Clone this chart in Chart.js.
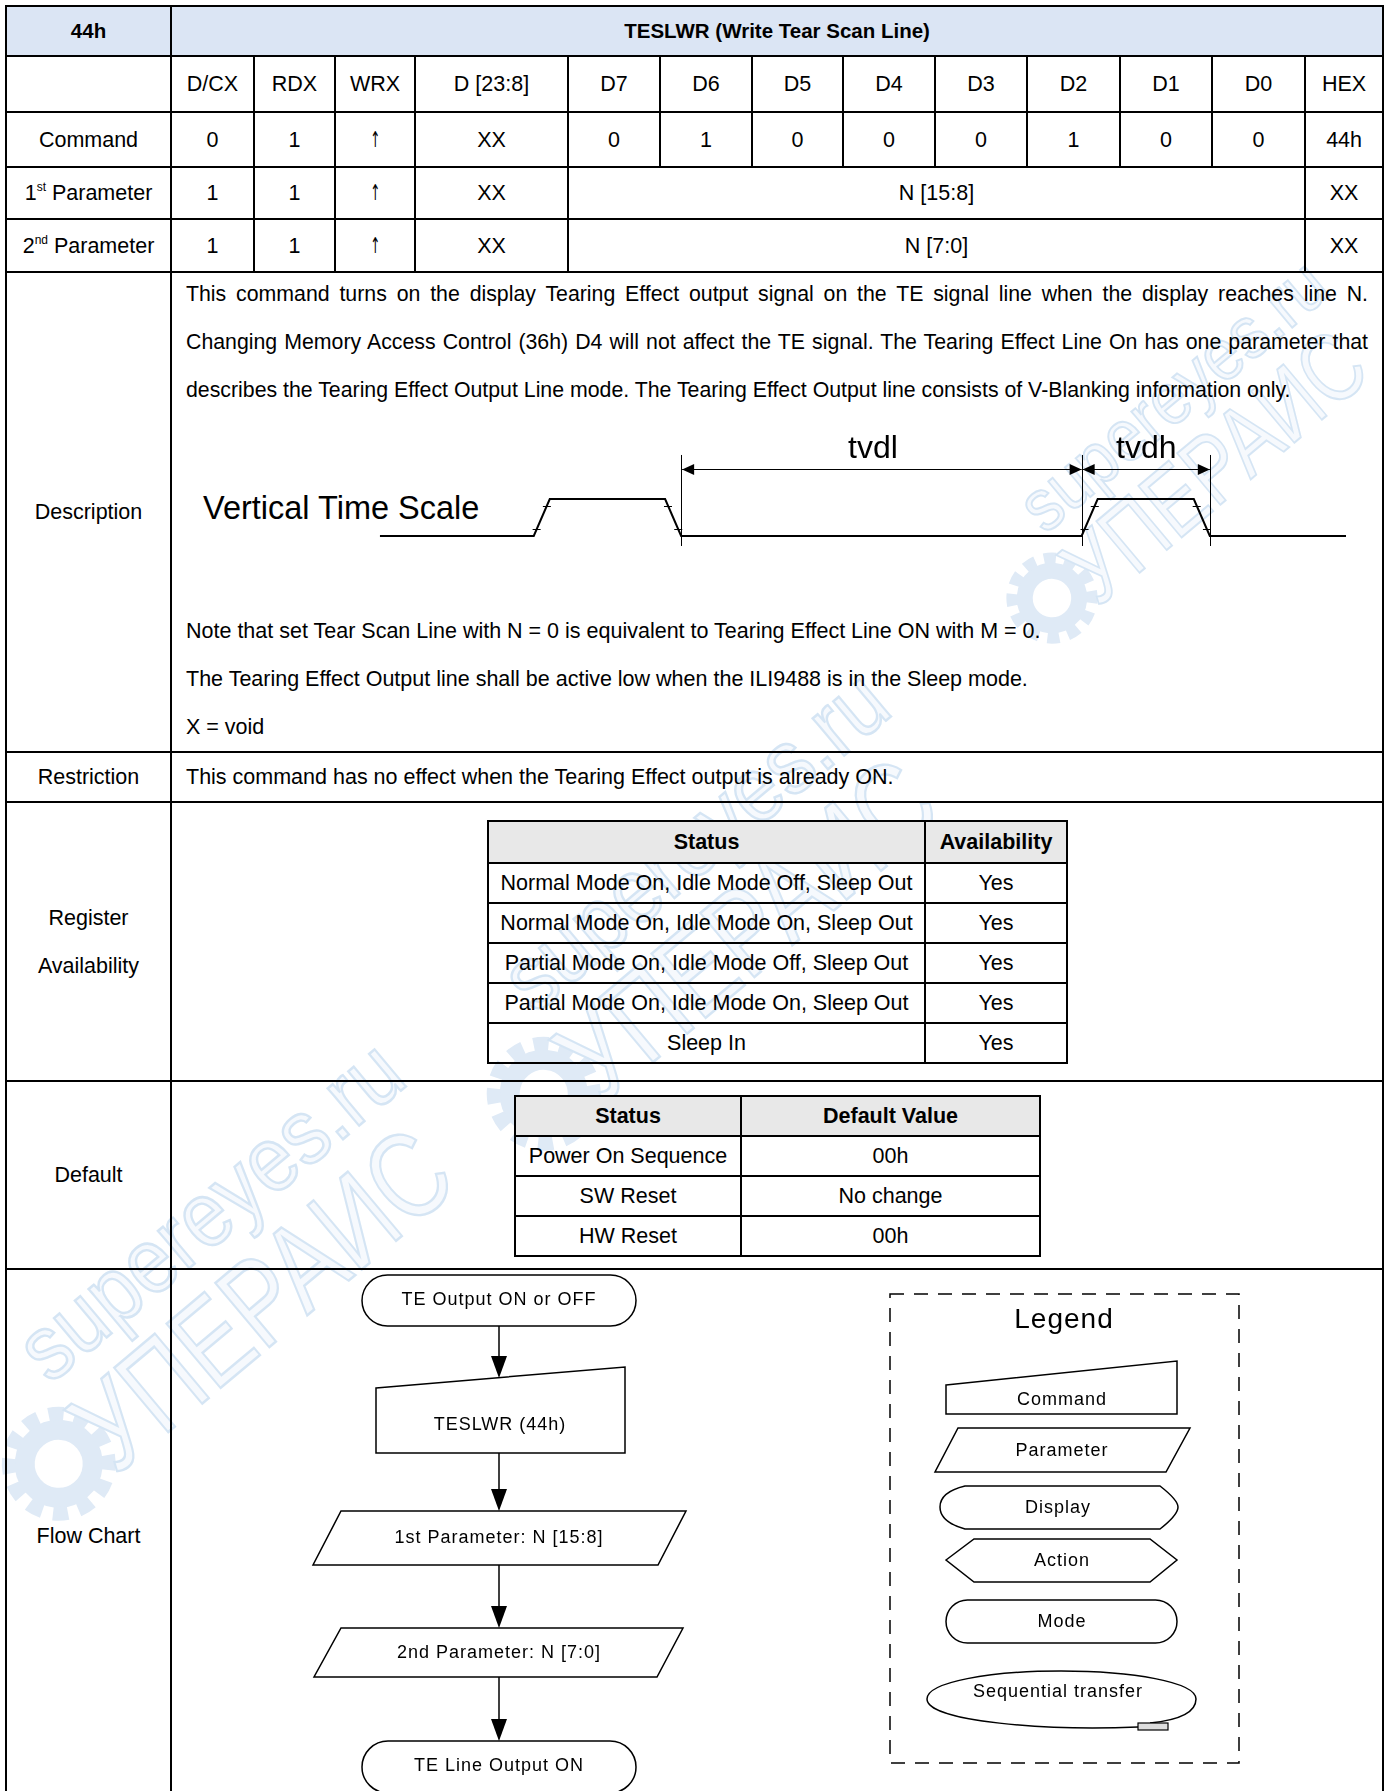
<!DOCTYPE html>
<html>
<head>
<meta charset="utf-8">
<script src="https://cdn.jsdelivr.net/npm/chart.js@4.4.0/dist/chart.umd.min.js"></script>
<style>
  body { margin: 0; background: #fff; font-family: "Liberation Sans", Arial, sans-serif; color: #000; }
  #page { position: relative; width: 1386px; height: 1791px; overflow: hidden; }
  #main { position: absolute; left: 5px; top: 5px; width: 1378px; border-collapse: collapse; table-layout: fixed; }
  #main td { border: 2px solid #000; text-align: center; vertical-align: middle; font-size: 21.5px; padding: 0; line-height: 48px; }
  #main tr.hdr td { background: #dbe5f4; font-weight: bold; font-size: 20.5px; }
  #main td.left { text-align: left; padding-left: 14px; }
  sup { font-size: 12px; line-height: 0; vertical-align: 9px; }
  .arr { display: inline-block; font-family: "DejaVu Sans", sans-serif; font-size: 22px; transform: scaleX(0.55); }
  .txt { position: absolute; left: 186px; width: 1182px; font-size: 21.5px; line-height: 48px; white-space: nowrap; }
  .txt div { height: 48px; }
  #desc { font-size: 21.3px; }
  .txt .just { text-align: justify; text-align-last: justify; }
  .sub { position: absolute; border-collapse: collapse; table-layout: fixed; }
  .sub td { border: 2px solid #000; text-align: center; font-size: 21.5px; padding: 0; }
  .sub tr.h td { background: #e8e8e8; font-weight: bold; }
  #vts { position: absolute; left: 203px; top: 490px; font-size: 32.5px; line-height: 36px; }
  #wave { position: absolute; left: 172px; top: 400px; }
  svg { position: absolute; left: 0; top: 0; }
</style>
</head>
<body>
<div id="page">
  <!-- watermark (behind everything) -->
  <svg width="1386" height="1791" font-family="Liberation Sans, Arial, sans-serif">
    <defs>
      <g id="wm">
        <circle cx="-44" cy="66" r="34" fill="none" stroke="#dfeaf6" stroke-width="20"/>
        <circle cx="-44" cy="66" r="50" fill="none" stroke="#dfeaf6" stroke-width="14" stroke-dasharray="15 11"/>
        <text x="0" y="0" font-size="92" textLength="470" lengthAdjust="spacingAndGlyphs" fill="#f6f9fd" stroke="#d5e5f4" stroke-width="2.5">supereyes.ru</text>
        <text x="-8" y="112" font-size="122" textLength="450" lengthAdjust="spacingAndGlyphs" fill="#f6f9fd" stroke="#d5e5f4" stroke-width="2.5">УПЕРАИС</text>
      </g>
    </defs>
    <use href="#wm" transform="translate(1045,535) rotate(-40) scale(0.8)"/>
    <use href="#wm" transform="translate(535,1015) rotate(-40)"/>
    <use href="#wm" transform="translate(50,1385) rotate(-40)"/>
  </svg>

  <table id="main"></table>

  <div class="txt" id="desc" style="top:270px"></div>
  <div class="txt" id="notes" style="top:607px"></div>
  <div id="vts">Vertical Time Scale</div>
  <canvas id="wave" width="1211" height="200"></canvas>

  <table class="sub" id="avail" style="left:487px; top:820px; width:579px"></table>
  <table class="sub" id="defaults" style="left:514px; top:1095px; width:525px"></table>

  <!-- flow chart + legend -->
  <svg width="1386" height="1791" font-family="Liberation Sans, Arial, sans-serif" font-size="18" letter-spacing="1" text-anchor="middle">
    <g fill="none" stroke="#000" stroke-width="1.5">
      <rect x="362" y="1275" width="274" height="51" rx="25.5"/>
      <polygon points="376,1388 625,1367 625,1453 376,1453"/>
      <polygon points="341,1511 686,1511 658,1565 313,1565"/>
      <polygon points="341,1628 683,1628 657,1677 314,1677"/>
      <rect x="362" y="1741" width="274" height="52" rx="26"/>
      <line x1="499" y1="1326" x2="499" y2="1360"/>
      <line x1="499" y1="1453" x2="499" y2="1492"/>
      <line x1="499" y1="1565" x2="499" y2="1609"/>
      <line x1="499" y1="1677" x2="499" y2="1722"/>
    </g>
    <g fill="#000">
      <polygon points="491,1356 507,1356 499,1378"/>
      <polygon points="491,1489 507,1489 499,1511"/>
      <polygon points="491,1606 507,1606 499,1628"/>
      <polygon points="491,1719 507,1719 499,1741"/>
    </g>
    <g fill="#000" dominant-baseline="central">
      <text x="499" y="1299">TE Output ON or OFF</text>
      <text x="500" y="1424">TESLWR (44h)</text>
      <text x="499" y="1537">1st Parameter: N [15:8]</text>
      <text x="499" y="1652">2nd Parameter: N [7:0]</text>
      <text x="499" y="1765">TE Line Output ON</text>
    </g>

    <rect x="890" y="1294" width="349" height="469" fill="none" stroke="#000" stroke-width="1.5" stroke-dasharray="14 10"/>
    <g fill="none" stroke="#000" stroke-width="1.5">
      <polygon points="946,1385 1177,1361 1177,1414 946,1414"/>
      <polygon points="958,1428 1190,1428 1166,1472 935,1472"/>
      <path d="M965,1486 L1160,1486 Q1178,1500 1178,1507 Q1178,1515 1160,1529 L965,1529 Q940,1522 940,1507 Q940,1492 965,1486 Z"/>
      <polygon points="946,1560 974,1539 1150,1539 1177,1560 1150,1582 974,1582"/>
      <rect x="946" y="1600" width="231" height="43" rx="21.5"/>
      <path d="M1138,1727 C1050,1731 927,1722 927,1699 C927,1682 990,1671 1061,1671 C1132,1671 1196,1682 1196,1699 C1196,1712 1180,1720 1150,1723"/>
    </g>
    <rect x="1138" y="1723" width="30" height="7" fill="#ddd" stroke="#000" stroke-width="1.2"/>
    <g fill="#000" dominant-baseline="central">
      <text x="1064" y="1318" font-size="28" letter-spacing="1">Legend</text>
      <text x="1062" y="1399">Command</text>
      <text x="1062" y="1450">Parameter</text>
      <text x="1058" y="1507">Display</text>
      <text x="1062" y="1560">Action</text>
      <text x="1062" y="1621">Mode</text>
      <text x="1058" y="1691">Sequential transfer</text>
    </g>
  </svg>
</div>

<script>
// register table
var bitHeaders = ['D/CX', 'RDX', 'WRX', 'D [23:8]', 'D7', 'D6', 'D5', 'D4', 'D3', 'D2', 'D1', 'D0', 'HEX'];
var commandBits = ['0', '1', '↑', 'XX', '0', '1', '0', '0', '0', '1', '0', '0', '44h'];
var paramLabels = ['1<sup>st</sup> Parameter', '2<sup>nd</sup> Parameter'];
var paramCtrl = [['1', '1', '↑', 'XX'], ['1', '1', '↑', 'XX']];
var paramData = ['N [15:8]', 'N [7:0]'];
var paramHex = ['XX', 'XX'];

var descriptionLines = [
    'This command turns on the display Tearing Effect output signal on the TE signal line when the display reaches line N.',
    'Changing Memory Access Control (36h) D4 will not affect the TE signal. The Tearing Effect Line On has one parameter that',
    'describes the Tearing Effect Output Line mode. The Tearing Effect Output line consists of V-Blanking information only.'
];
var noteLines = [
    'Note that set Tear Scan Line with N = 0 is equivalent to Tearing Effect Line ON with M = 0.',
    'The Tearing Effect Output line shall be active low when the ILI9488 is in the Sleep mode.',
    'X = void'
];
var restrictionText = 'This command has no effect when the Tearing Effect output is already ON.';

var availStatus = ['Normal Mode On, Idle Mode Off, Sleep Out', 'Normal Mode On, Idle Mode On, Sleep Out',
    'Partial Mode On, Idle Mode Off, Sleep Out', 'Partial Mode On, Idle Mode On, Sleep Out', 'Sleep In'];
var availValues = ['Yes', 'Yes', 'Yes', 'Yes', 'Yes'];
var defaultStatus = ['Power On Sequence', 'SW Reset', 'HW Reset'];
var defaultValues = ['00h', 'No change', '00h'];

// timing diagram (time units / logic level)
var waveTimes = [0, 9.6, 10.6, 17.8, 18.8, 43.8, 44.8, 50.8, 51.8, 60.3];
var waveLevels = [0, 0, 1, 1, 0, 0, 1, 1, 0, 0];
var markerTimes = [18.8, 43.8, 51.8];
var spanLabels = ['tvdl', 'tvdh'];

// ---- build main table
var colWidths = [165, 83, 81, 80, 153, 92, 92, 91, 92, 92, 93, 92, 93, 78];
var rowHeights = [49, 56, 55, 52, 53, 480, 50, 279, 188, 532];

function cell(v) {
    if (v === '↑') v = '<span class="arr">↑</span>';
    return '<td>' + v + '</td>';
}
function cells(list) {
    return list.map(cell).join('');
}

var html = '<colgroup>' + colWidths.map(function (w) { return '<col style="width:' + w + 'px">'; }).join('') + '</colgroup>';
html += '<tr class="hdr"><td>44h</td><td colspan="13">TESLWR (Write Tear Scan Line)</td></tr>';
html += '<tr><td></td>' + cells(bitHeaders) + '</tr>';
html += '<tr><td>Command</td>' + cells(commandBits) + '</tr>';
for (var i = 0; i < paramLabels.length; i++) {
    html += '<tr><td>' + paramLabels[i] + '</td>' + cells(paramCtrl[i]) +
        '<td colspan="8">' + paramData[i] + '</td><td>' + paramHex[i] + '</td></tr>';
}
html += '<tr><td>Description</td><td colspan="13"></td></tr>';
html += '<tr><td>Restriction</td><td colspan="13" class="left">' + restrictionText + '</td></tr>';
html += '<tr><td>Register<br>Availability</td><td colspan="13"></td></tr>';
html += '<tr><td>Default</td><td colspan="13"></td></tr>';
html += '<tr><td style="vertical-align:top; padding-top:242px">Flow Chart</td><td colspan="13"></td></tr>';
var main = document.getElementById('main');
main.innerHTML = html;
Array.prototype.forEach.call(main.rows, function (r, k) { r.style.height = rowHeights[k] + 'px'; });

document.getElementById('desc').innerHTML = descriptionLines.map(function (t, k) {
    return '<div' + (k < 2 ? ' class="just"' : '') + '>' + t + '</div>';
}).join('');
document.getElementById('notes').innerHTML = noteLines.map(function (t) { return '<div>' + t + '</div>'; }).join('');

function subTable(id, heads, widths, left, right, firstH, rowH) {
    var t = '<colgroup><col style="width:' + widths[0] + 'px"><col style="width:' + widths[1] + 'px"></colgroup>';
    t += '<tr class="h" style="height:' + firstH + 'px"><td>' + heads[0] + '</td><td>' + heads[1] + '</td></tr>';
    left.forEach(function (v, k) {
        t += '<tr style="height:' + rowH + 'px"><td>' + v + '</td><td>' + right[k] + '</td></tr>';
    });
    document.getElementById(id).innerHTML = t;
}
subTable('avail', ['Status', 'Availability'], [437, 142], availStatus, availValues, 42, 40);
subTable('defaults', ['Status', 'Default Value'], [226, 299], defaultStatus, defaultValues, 40, 40);

// ---- timing chart
var wavePoints = waveTimes.map(function (t, k) { return { x: t, y: waveLevels[k] }; });

var timingPlugin = {
    id: 'timing',
    afterDatasetsDraw: function (chart) {
        var ctx = chart.ctx, xs = chart.scales.x, ys = chart.scales.y;
        ctx.save();
        ctx.strokeStyle = '#000';
        ctx.fillStyle = '#000';
        ctx.lineWidth = 1;

        // marker lines
        markerTimes.forEach(function (t) {
            var px = Math.round(xs.getPixelForValue(t)) + 0.5;
            ctx.beginPath();
            ctx.moveTo(px, ys.getPixelForValue(2.19));
            ctx.lineTo(px, ys.getPixelForValue(-0.27));
            ctx.stroke();
        });

        // span arrows + labels
        var ay = Math.round(ys.getPixelForValue(1.81)) + 0.5;
        ctx.font = '32px "Liberation Sans", Arial, sans-serif';
        ctx.textAlign = 'center';
        ctx.textBaseline = 'middle';
        for (var s = 0; s < spanLabels.length; s++) {
            var x1 = xs.getPixelForValue(markerTimes[s]) + 1, x2 = xs.getPixelForValue(markerTimes[s + 1]);
            ctx.beginPath();
            ctx.moveTo(x1, ay);
            ctx.lineTo(x2, ay);
            ctx.stroke();
            ctx.beginPath();
            ctx.moveTo(x1, ay); ctx.lineTo(x1 + 12, ay - 5.5); ctx.lineTo(x1 + 12, ay + 5.5); ctx.closePath();
            ctx.moveTo(x2, ay); ctx.lineTo(x2 - 12, ay - 5.5); ctx.lineTo(x2 - 12, ay + 5.5); ctx.closePath();
            ctx.fill();
            ctx.fillText(spanLabels[s], (x1 + x2) / 2 + (s ? 0 : -9), ys.getPixelForValue(2.35));
        }

        // small ticks on the edges
        for (var k = 1; k < waveTimes.length; k++) {
            var l0 = waveLevels[k - 1], l1 = waveLevels[k];
            if (l0 === l1) continue;
            [0.18, 0.82].forEach(function (v) {
                var t = waveTimes[k - 1] + (waveTimes[k] - waveTimes[k - 1]) * (v - l0) / (l1 - l0);
                var px = xs.getPixelForValue(t), py = Math.round(ys.getPixelForValue(v)) + 0.5;
                ctx.beginPath();
                ctx.moveTo(px - 4, py);
                ctx.lineTo(px + 4, py);
                ctx.stroke();
            });
        }
        ctx.restore();
    }
};

new Chart(document.getElementById('wave'), {
    type: 'scatter',
    data: {
        datasets: [{
            data: wavePoints,
            showLine: true,
            borderColor: '#000',
            borderWidth: 2,
            pointRadius: 0,
            tension: 0
        }]
    },
    options: {
        responsive: false,
        animation: false,
        events: [],
        layout: { padding: 0 },
        plugins: { legend: { display: false }, tooltip: { enabled: false } },
        scales: {
            x: { type: 'linear', min: -12.98, max: 62.61, display: false },
            y: { type: 'linear', min: -1.73, max: 3.676, display: false }
        }
    },
    plugins: [timingPlugin]
});
</script>
</body>
</html>
